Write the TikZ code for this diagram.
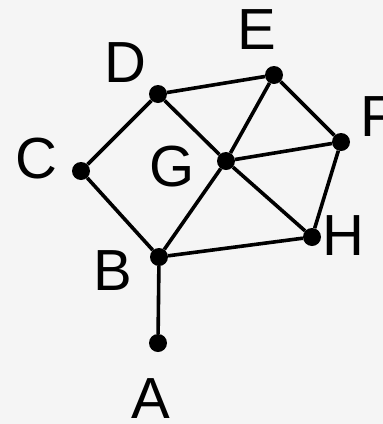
\documentclass[tikz,border=0pt]{standalone}
\usepackage{fontspec}
\setmainfont{Liberation Sans}
\begin{document}
\begin{tikzpicture}[x=1pt,y=-1pt,
  vtx/.style={circle,fill=black,inner sep=0pt,minimum size=18pt},
  lbl/.style={inner sep=0pt,font=\fontsize{58}{58}\selectfont},
  edge/.style={line width=3.6pt}]
\fill[black!4] (0,0) rectangle (383,424);
\useasboundingbox (0,0) rectangle (383,424);
\node[vtx] (A) at (158,343) {};
\node[vtx] (B) at (159,257) {};
\node[vtx] (C) at (81,171) {};
\node[vtx] (D) at (158,94) {};
\node[vtx] (E) at (274,75) {};
\node[vtx] (F) at (341,142) {};
\node[vtx] (G) at (226,161) {};
\node[vtx] (H) at (312,237) {};
\draw[edge] (A) -- (B);
\draw[edge] (B) -- (C);
\draw[edge] (C) -- (D);
\draw[edge] (D) -- (E);
\draw[edge] (D) -- (G);
\draw[edge] (E) -- (G);
\draw[edge] (E) -- (F);
\draw[edge] (F) -- (G);
\draw[edge] (F) -- (H);
\draw[edge] (G) -- (H);
\draw[edge] (G) -- (B);
\draw[edge] (B) -- (H);
\node[lbl] (lA) at (151,399) {A};
\node[lbl] (lB) at (113,271) {B};
\node[lbl] (lC) at (36,159) {C};
\node[lbl] (lD) at (125,63) {D};
\node[lbl] (lE) at (257,30) {E};
\node[lbl,anchor=west] (lF) at (360,117) {F};
\node[lbl] (lG) at (172,167) {G};
\node[lbl] (lH) at (343,236) {H};
\end{tikzpicture}
\end{document}
